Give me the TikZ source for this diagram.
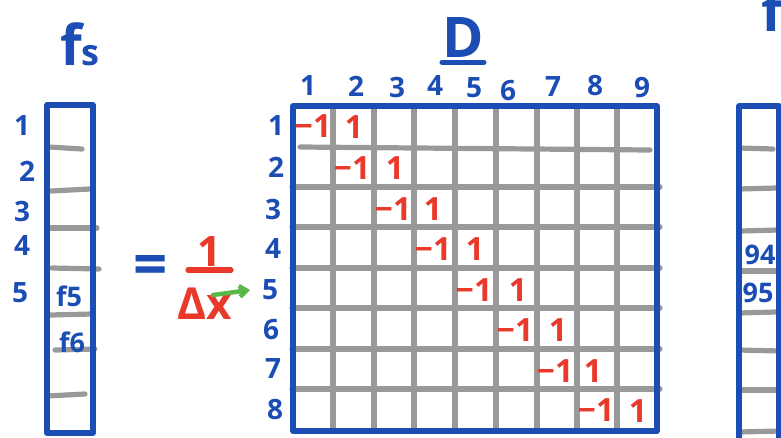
\documentclass[tikz,border=0pt]{standalone}
\usepackage{fontspec}
\setmainfont{Open Sans}
\usetikzlibrary{arrows.meta}
\definecolor{penblue}{HTML}{1B4DB4}
\definecolor{penred}{HTML}{E8392A}
\definecolor{pengray}{HTML}{999999}
\definecolor{pengreen}{HTML}{5AB946}

\begin{document}
\begin{tikzpicture}[x=1pt,y=-1pt]
\tikzset{
  boxline/.style={draw=penblue,line width=5.2pt,line join=round},
  gridline/.style={draw=pengray,line width=5.2pt,line cap=round},
  idx/.style={text=penblue,inner sep=0pt,font=\fontsize{28}{28}\selectfont\bfseries},
  cellval/.style={text=penred,inner sep=0pt,font=\fontsize{32}{32}\selectfont\bfseries},
  vecval/.style={text=penblue,inner sep=0pt,font=\fontsize{27}{27}\selectfont\bfseries},
  title/.style={text=penblue,inner sep=0pt,font=\fontsize{56}{56}\selectfont\bfseries},
  vecarrow/.style={draw=pengreen,line width=4.5pt,line cap=round,-{Straight Barb[length=7pt,width=11pt]}}
}
\useasboundingbox (0,0) rectangle (781,437);

% left vector f_s
\draw[gridline] (49,147) -- (82,149);
\draw[gridline] (51,191) -- (90,189);
\draw[gridline] (50,228) -- (97,228);
\draw[gridline] (52,268) -- (99,269);
\draw[gridline] (50,315) -- (92,314);
\draw[gridline] (55,350) -- (95,349);
\draw[gridline] (47,396) -- (85,394);
\draw[boxline] (47,105) rectangle (93,433);
\node[title] (n_fs) at (80,44) {f{\fontsize{36}{36}\selectfont s}};
\node[idx] (n_l1) at (22,126) {1};
\node[idx] (n_l2) at (27,171) {2};
\node[idx] (n_l3) at (22,211) {3};
\node[idx] (n_l4) at (22,245) {4};
\node[idx] (n_l5) at (20,293) {5};
\node[vecval] (n_f5) at (69,296) {f5};
\node[vecval] (n_f6) at (72,342) {f6};

% = 1/dx
\node[title,font=\fontsize{60}{60}\selectfont\bfseries] (n_eq) at (151,270) {=};
\node[cellval,font=\fontsize{42}{42}\selectfont\bfseries] (n_one) at (209,252) {1};
\draw[draw=penred,line width=5.2pt,line cap=round] (188,270) -- (231,270);
\node[cellval,font=\fontsize{44}{44}\selectfont\bfseries] (n_dx) at (205,304) {Δx};
\coordinate (a_start) at (213,295);
\coordinate (a_end) at (250,290);
\draw[vecarrow] (a_start) -- (a_end);

% matrix D
\node[title] (n_D) at (463,38) {D};
\draw[draw=penblue,line width=5.2pt,line cap=round] ([yshift=-4pt]n_D.south west) -- ([yshift=-4pt]n_D.south east);
\draw[gridline] (300,147) -- (650,150);
\draw[gridline] (292,187) -- (660,187);
\draw[gridline] (292,227) -- (660,227);
\draw[gridline] (292,268) -- (660,268);
\draw[gridline] (292,308) -- (660,308);
\draw[gridline] (292,349) -- (660,349);
\draw[gridline] (292,389) -- (660,389);
\draw[gridline] (333,106) -- (333,431);
\draw[gridline] (374,106) -- (374,431);
\draw[gridline] (414,106) -- (414,431);
\draw[gridline] (455,106) -- (455,431);
\draw[gridline] (496,106) -- (496,431);
\draw[gridline] (537,106) -- (537,431);
\draw[gridline] (577,106) -- (577,431);
\draw[gridline] (617,106) -- (617,431);
\draw[boxline] (293,106) rectangle (657,431);
\node[idx] (n_c1) at (308,86) {1};
\node[idx] (n_c2) at (356,86) {2};
\node[idx] (n_c3) at (397,87) {3};
\node[idx] (n_c4) at (435,86) {4};
\node[idx] (n_c5) at (474,88) {5};
\node[idx] (n_c6) at (508,91) {6};
\node[idx] (n_c7) at (553,87) {7};
\node[idx] (n_c8) at (595,86) {8};
\node[idx] (n_c9) at (642,88) {9};
\node[idx] (n_r1) at (276,126) {1};
\node[idx] (n_r2) at (276,167) {2};
\node[idx] (n_r3) at (273,209) {3};
\node[idx] (n_r4) at (273,248) {4};
\node[idx] (n_r5) at (270,290) {5};
\node[idx] (n_r6) at (271,330) {6};
\node[idx] (n_r7) at (273,369) {7};
\node[idx] (n_r8) at (275,410) {8};
\node[cellval] (n_d11) at (313,126) {−1};
\node[cellval] (n_d12) at (354,127) {1};
\node[cellval] (n_d22) at (352,168) {−1};
\node[cellval] (n_d23) at (395,168) {1};
\node[cellval] (n_d33) at (393,209) {−1};
\node[cellval] (n_d34) at (433,209) {1};
\node[cellval] (n_d44) at (433,249) {−1};
\node[cellval] (n_d45) at (475,249) {1};
\node[cellval] (n_d55) at (474,290) {−1};
\node[cellval] (n_d56) at (518,290) {1};
\node[cellval] (n_d66) at (515,330) {−1};
\node[cellval] (n_d67) at (558,330) {1};
\node[cellval] (n_d77) at (555,371) {−1};
\node[cellval] (n_d78) at (593,371) {1};
\node[cellval] (n_d88) at (596,410) {−1};
\node[cellval] (n_d89) at (638,411) {1};

% right vector f (cut off)
\draw[gridline] (739,148) -- (773,149);
\draw[gridline] (739,189) -- (777,188);
\draw[gridline] (741,231) -- (778,230);
\draw[gridline] (741,271) -- (780,271);
\draw[gridline] (739,313) -- (776,312);
\draw[gridline] (739,350) -- (780,351);
\draw[gridline] (739,390) -- (776,390);
\draw[gridline] (739,432) -- (780,431);
\draw[boxline] (739,450) -- (739,106) -- (779,106) -- (779,450);
\node[title] (n_f) at (772,10) {f};
\node[vecval] (n_94) at (760,255) {94};
\node[vecval] (n_95) at (758,293) {95};
\end{tikzpicture}
\end{document}
